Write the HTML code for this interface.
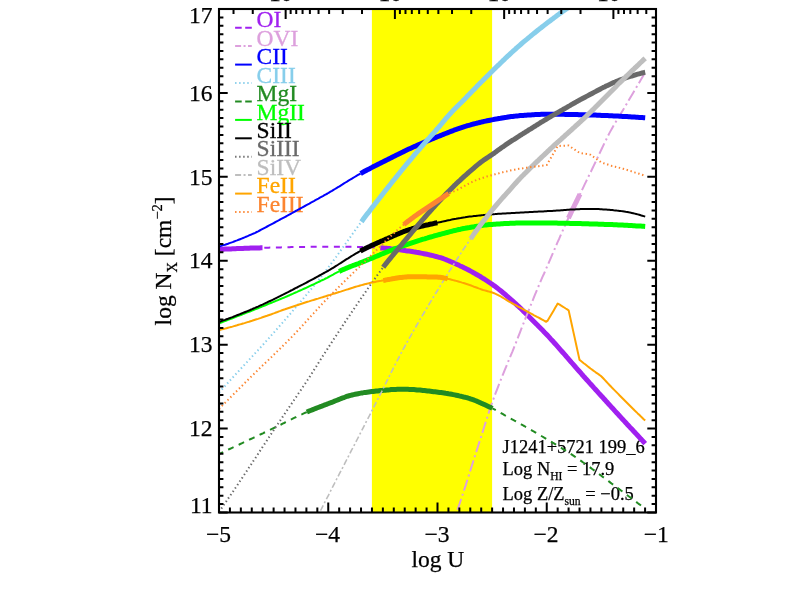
<!DOCTYPE html>
<html><head><meta charset="utf-8"><title>plot</title>
<style>html,body{margin:0;padding:0;background:#fff}svg{display:block;will-change:transform}text{font-family:"Liberation Serif",serif}.k text{stroke:#000;stroke-width:0.25px}</style></head><body>
<svg width="789" height="599" viewBox="0 0 789 599">
<rect width="789" height="599" fill="#fff"/>
<defs><clipPath id="c"><rect x="219.0" y="9.0" width="437.0" height="503.5"/></clipPath></defs>
<rect x="371.9" y="9.0" width="120.2" height="503.5" fill="#FFFF00"/>
<text x="256.6" y="27.4" font-size="23.5" fill="#A020F0" stroke="#A020F0" stroke-width="0.3">OI</text>
<text x="256.6" y="45.8" font-size="23.5" fill="#DDA0DD" stroke="#DDA0DD" stroke-width="0.3">OVI</text>
<text x="256.6" y="64.3" font-size="23.5" fill="#0000FF" stroke="#0000FF" stroke-width="0.3">CII</text>
<text x="256.6" y="82.7" font-size="23.5" fill="#87CEEB" stroke="#87CEEB" stroke-width="0.3">CIII</text>
<text x="256.6" y="101.1" font-size="23.5" fill="#228B22" stroke="#228B22" stroke-width="0.3">MgI</text>
<text x="256.6" y="119.6" font-size="23.5" fill="#00FF00" stroke="#00FF00" stroke-width="0.3">MgII</text>
<text x="256.6" y="138.0" font-size="23.5" fill="#000000" stroke="#000000" stroke-width="0.3">SiII</text>
<text x="256.6" y="156.4" font-size="23.5" fill="#696969" stroke="#696969" stroke-width="0.3">SiIII</text>
<text x="256.6" y="174.8" font-size="23.5" fill="#BEBEBE" stroke="#BEBEBE" stroke-width="0.3">SiIV</text>
<text x="256.6" y="193.3" font-size="23.5" fill="#FFA500" stroke="#FFA500" stroke-width="0.3">FeII</text>
<text x="256.6" y="211.7" font-size="23.5" fill="#FC8530" stroke="#FC8530" stroke-width="0.3">FeIII</text>
<g class="k">
<text x="502.6" y="452.6" font-size="18.45" fill="#000">J1241+5721 199_6</text>
<text x="502.6" y="475.2" font-size="18.45" fill="#000">Log N<tspan font-size="11.6" dy="4.5">HI</tspan><tspan dy="-4.5"> = 17.9</tspan></text>
<text x="502.6" y="500" font-size="18.45" fill="#000">Log Z/Z<tspan font-size="11.6" dy="4.5">sun</tspan><tspan dy="-4.5"> = −0.5</tspan></text>
</g>
<g clip-path="url(#c)" fill="none" stroke-linejoin="round">
<path d="M219.0 249.4 L220.5 249.3 L222.0 249.3 L223.5 249.2 L225.0 249.1 L226.5 249.1 L228.0 249.0 L229.5 248.9 L231.0 248.9 L232.5 248.8 L234.0 248.8 L235.5 248.7 L237.0 248.6 L238.5 248.6 L240.0 248.5 L241.5 248.5 L243.0 248.4 L244.5 248.3 L246.0 248.3 L247.5 248.2 L249.0 248.2 L250.5 248.1 L252.0 248.1 L253.5 248.0 L255.0 248.0 L256.5 248.0 L258.0 247.9 L259.5 247.9 L261.0 247.8 L262.5 247.8" stroke="#A020F0" stroke-width="5.0"/>
<path d="M262.5 247.8 L264.0 247.8 L265.5 247.7 L267.0 247.7 L268.5 247.7 L270.1 247.6 L271.6 247.6 L273.1 247.6 L274.6 247.5 L276.1 247.5 L277.6 247.4 L279.1 247.4 L280.6 247.4 L282.1 247.3 L283.6 247.3 L285.2 247.3 L286.7 247.2 L288.2 247.2 L289.7 247.2 L291.2 247.1 L292.7 247.1 L294.2 247.1 L295.7 247.1 L297.2 247.0 L298.7 247.0 L300.3 247.0 L301.8 246.9 L303.3 246.9 L304.8 246.9 L306.3 246.9 L307.8 246.9 L309.3 246.8 L310.8 246.8 L312.3 246.8 L313.8 246.8 L315.4 246.8 L316.9 246.8 L318.4 246.7 L319.9 246.7 L321.4 246.7 L322.9 246.7 L324.4 246.7 L325.9 246.7 L327.4 246.7 L329.0 246.7 L330.5 246.7 L332.0 246.7 L333.5 246.7 L335.0 246.7 L336.5 246.7 L338.0 246.7 L339.5 246.7 L341.0 246.7 L342.5 246.7 L344.1 246.7 L345.6 246.8 L347.1 246.8 L348.6 246.8 L350.1 246.8 L351.6 246.8 L353.1 246.8 L354.6 246.8 L356.1 246.8 L357.6 246.9 L359.2 246.9 L360.7 246.9 L362.2 246.9 L363.7 246.9 L365.2 247.0 L366.7 247.0 L368.2 247.1 L369.7 247.2 L371.2 247.2 L372.7 247.3 L374.3 247.4 L375.8 247.5 L377.3 247.6 L378.8 247.7 L380.3 247.9" stroke="#A020F0" stroke-width="2.0" stroke-dasharray="6.0 5.6" stroke-dashoffset="9.8"/>
<path d="M380.3 247.9 L381.8 248.0 L383.3 248.1 L384.8 248.2 L386.3 248.3 L387.8 248.5 L389.3 248.6 L390.8 248.8 L392.3 248.9 L393.8 249.1 L395.4 249.3 L396.9 249.5 L398.4 249.6 L399.9 249.8 L401.4 250.0 L402.9 250.2 L404.4 250.4 L405.9 250.7 L407.4 250.9 L408.9 251.1 L410.4 251.3 L411.9 251.5 L413.4 251.8 L414.9 252.0 L416.4 252.3 L417.9 252.5 L419.4 252.8 L420.9 253.1 L422.4 253.4 L423.9 253.7 L425.5 254.0 L427.0 254.3 L428.5 254.6 L430.0 255.0 L431.5 255.3 L433.0 255.7 L434.5 256.1 L436.0 256.5 L437.5 256.9 L439.0 257.3 L440.5 257.7 L442.0 258.2 L443.5 258.7 L445.0 259.3 L446.5 259.9 L448.0 260.5 L449.5 261.1 L451.0 261.7 L452.5 262.4 L454.1 263.0 L455.6 263.7 L457.1 264.4 L458.6 265.1 L460.1 265.9 L461.6 266.6 L463.1 267.3 L464.6 268.1 L466.1 268.8 L467.6 269.5 L469.1 270.3 L470.6 271.1 L472.1 271.9 L473.6 272.8 L475.1 273.6 L476.6 274.5 L478.1 275.3 L479.6 276.2 L481.1 277.2 L482.6 278.1 L484.2 279.0 L485.7 280.0 L487.2 281.0 L488.7 282.0 L490.2 283.0 L491.7 284.0 L493.2 285.1 L494.7 286.1 L496.2 287.2 L497.7 288.4 L499.2 289.6 L500.7 290.8 L502.2 292.0 L503.7 293.3 L505.2 294.5 L506.7 295.8 L508.2 297.1 L509.7 298.5 L511.2 299.8 L512.8 301.1 L514.3 302.5 L515.8 303.9 L517.3 305.3 L518.8 306.7 L520.3 308.1 L521.8 309.6 L523.3 311.1 L524.8 312.5 L526.3 314.0 L527.8 315.5 L529.3 316.9 L530.8 318.4 L532.3 319.9 L533.8 321.4 L535.3 322.9 L536.8 324.4 L538.3 326.0 L539.8 327.5 L541.3 329.0 L542.9 330.6 L544.4 332.2 L545.9 333.7 L547.4 335.3 L548.9 336.9 L550.4 338.6 L551.9 340.2 L553.4 341.8 L554.9 343.5 L556.4 345.2 L557.9 346.9 L559.4 348.6 L560.9 350.3 L562.4 352.0 L563.9 353.7 L565.4 355.4 L566.9 357.2 L568.4 358.9 L569.9 360.6 L571.4 362.4 L573.0 364.1 L574.5 365.8 L576.0 367.6 L577.5 369.3 L579.0 371.0 L580.5 372.7 L582.0 374.5 L583.5 376.2 L585.0 377.8 L586.5 379.5 L588.0 381.2 L589.5 382.9 L591.0 384.5 L592.5 386.2 L594.0 387.9 L595.5 389.5 L597.0 391.2 L598.5 392.9 L600.0 394.5 L601.6 396.2 L603.1 397.8 L604.6 399.5 L606.1 401.2 L607.6 402.8 L609.1 404.5 L610.6 406.1 L612.1 407.8 L613.6 409.4 L615.1 411.1 L616.6 412.7 L618.1 414.3 L619.6 416.0 L621.1 417.6 L622.6 419.3 L624.1 420.9 L625.6 422.5 L627.1 424.2 L628.6 425.8 L630.1 427.4 L631.7 429.0 L633.2 430.7 L634.7 432.3 L636.2 433.9 L637.7 435.5 L639.2 437.1 L640.7 438.8 L642.2 440.4 L643.7 442.0 L645.2 443.6" stroke="#A020F0" stroke-width="5.0"/>
<path d="M456.5 512.5 L458.0 508.4 L459.5 504.0 L461.0 499.5 L462.5 494.9 L464.0 490.3 L465.6 485.6 L467.1 480.8 L468.6 476.1 L470.1 471.3 L471.6 466.5 L473.1 461.8 L474.6 457.1 L476.1 452.4 L477.6 447.7 L479.1 442.9 L480.7 438.1 L482.2 433.3 L483.7 428.5 L485.2 423.7 L486.7 419.0 L488.2 414.3 L489.7 409.8 L491.2 405.3 L492.7 401.0 L494.2 396.9 L495.7 392.8 L497.3 388.8 L498.8 384.9 L500.3 381.1 L501.8 377.3 L503.3 373.6 L504.8 369.9 L506.3 366.3 L507.8 362.6 L509.3 358.9 L510.8 355.3 L512.4 351.6 L513.9 347.8 L515.4 344.1 L516.9 340.3 L518.4 336.4 L519.9 332.6 L521.4 328.7 L522.9 324.9 L524.4 321.1 L525.9 317.2 L527.5 313.4 L529.0 309.6 L530.5 305.8 L532.0 302.1 L533.5 298.4 L535.0 294.7 L536.5 291.1 L538.0 287.5 L539.5 283.9 L541.0 280.4 L542.5 276.9 L544.1 273.5 L545.6 270.0 L547.1 266.5 L548.6 263.1 L550.1 259.6 L551.6 256.1 L553.1 252.6 L554.6 249.1 L556.1 245.6 L557.6 242.1 L559.2 238.7 L560.7 235.2 L562.2 231.8 L563.7 228.4 L565.2 225.1 L566.7 221.7 L568.2 218.5 L569.7 215.3 L571.2 212.1 L572.7 209.0 L574.2 205.9 L575.8 202.9 L577.3 199.8 L578.8 196.7 L580.3 193.6 L581.8 190.5 L583.3 187.4 L584.8 184.2 L586.3 181.1 L587.8 178.0 L589.3 174.8 L590.9 171.7 L592.4 168.5 L593.9 165.4 L595.4 162.3 L596.9 159.1 L598.4 155.9 L599.9 152.7 L601.4 149.5 L602.9 146.3 L604.4 143.1 L606.0 140.0 L607.5 136.9 L609.0 133.9 L610.5 131.1 L612.0 128.4 L613.5 125.8 L615.0 123.2 L616.5 120.7 L618.0 118.3 L619.5 115.8 L621.0 113.3 L622.6 110.7 L624.1 108.2 L625.6 105.6 L627.1 103.1 L628.6 100.5 L630.1 98.0 L631.6 95.4 L633.1 92.9 L634.6 90.3 L636.1 87.8 L637.7 85.2 L639.2 82.7 L640.7 80.1 L642.2 77.6 L643.7 75.0 L645.2 72.5" stroke="#DDA0DD" stroke-width="2.0" stroke-dasharray="11.5 3.4 2 3.3" stroke-dashoffset="17.3"/>
<path d="M568.4 218.1 L570.1 214.6 L571.7 211.1 L573.4 207.7 L575.0 204.3 L576.7 201.0 L578.3 197.6 L580.0 194.2" stroke="#DDA0DD" stroke-width="5.0"/>
<path d="M219.0 246.5 L220.5 246.1 L222.0 245.6 L223.5 245.1 L225.0 244.7 L226.5 244.2 L228.0 243.7 L229.5 243.1 L231.1 242.6 L232.6 242.1 L234.1 241.5 L235.6 240.9 L237.1 240.4 L238.6 239.8 L240.1 239.2 L241.6 238.6 L243.1 238.0 L244.6 237.4 L246.1 236.7 L247.6 236.1 L249.1 235.4 L250.6 234.8 L252.1 234.1 L253.6 233.5 L255.2 232.8 L256.7 232.0 L258.2 231.3 L259.7 230.5 L261.2 229.7 L262.7 228.9 L264.2 228.1 L265.7 227.3 L267.2 226.5 L268.7 225.7 L270.2 224.9 L271.7 224.1 L273.2 223.3 L274.7 222.5 L276.2 221.7 L277.7 220.9 L279.3 220.0 L280.8 219.2 L282.3 218.4 L283.8 217.6 L285.3 216.8 L286.8 216.0 L288.3 215.1 L289.8 214.3 L291.3 213.5 L292.8 212.6 L294.3 211.8 L295.8 211.0 L297.3 210.2 L298.8 209.3 L300.3 208.5 L301.9 207.7 L303.4 206.8 L304.9 206.0 L306.4 205.2 L307.9 204.4 L309.4 203.6 L310.9 202.7 L312.4 201.9 L313.9 201.1 L315.4 200.2 L316.9 199.4 L318.4 198.6 L319.9 197.7 L321.4 196.9 L322.9 196.1 L324.4 195.2 L326.0 194.3 L327.5 193.5 L329.0 192.6 L330.5 191.7 L332.0 190.9 L333.5 189.9 L335.0 189.0 L336.5 188.1 L338.0 187.2 L339.5 186.3 L341.0 185.3 L342.5 184.4 L344.0 183.4 L345.5 182.5 L347.0 181.6 L348.5 180.6 L350.1 179.7 L351.6 178.8 L353.1 177.9 L354.6 177.0 L356.1 176.1 L357.6 175.2 L359.1 174.3 L360.6 173.5" stroke="#0000FF" stroke-width="2.0"/>
<path d="M360.6 173.5 L362.1 172.7 L363.6 171.8 L365.1 171.0 L366.6 170.2 L368.1 169.4 L369.6 168.7 L371.1 167.9 L372.6 167.1 L374.2 166.3 L375.7 165.6 L377.2 164.8 L378.7 164.0 L380.2 163.3 L381.7 162.5 L383.2 161.8 L384.7 161.0 L386.2 160.2 L387.7 159.5 L389.2 158.7 L390.7 158.0 L392.2 157.2 L393.7 156.4 L395.2 155.7 L396.7 154.9 L398.2 154.2 L399.8 153.4 L401.3 152.7 L402.8 152.0 L404.3 151.2 L405.8 150.5 L407.3 149.8 L408.8 149.1 L410.3 148.4 L411.8 147.7 L413.3 147.0 L414.8 146.4 L416.3 145.7 L417.8 145.0 L419.3 144.4 L420.8 143.7 L422.3 143.1 L423.8 142.4 L425.4 141.8 L426.9 141.1 L428.4 140.5 L429.9 139.9 L431.4 139.3 L432.9 138.7 L434.4 138.0 L435.9 137.4 L437.4 136.8 L438.9 136.2 L440.4 135.6 L441.9 135.0 L443.4 134.4 L444.9 133.8 L446.4 133.2 L447.9 132.6 L449.4 132.0 L450.9 131.4 L452.5 130.8 L454.0 130.2 L455.5 129.7 L457.0 129.1 L458.5 128.6 L460.0 128.1 L461.5 127.6 L463.0 127.1 L464.5 126.6 L466.0 126.2 L467.5 125.7 L469.0 125.3 L470.5 124.9 L472.0 124.4 L473.5 124.0 L475.0 123.6 L476.5 123.3 L478.1 122.9 L479.6 122.5 L481.1 122.1 L482.6 121.8 L484.1 121.4 L485.6 121.1 L487.1 120.8 L488.6 120.5 L490.1 120.2 L491.6 119.9 L493.1 119.6 L494.6 119.3 L496.1 119.1 L497.6 118.8 L499.1 118.5 L500.6 118.3 L502.1 118.0 L503.7 117.7 L505.2 117.5 L506.7 117.3 L508.2 117.0 L509.7 116.8 L511.2 116.6 L512.7 116.4 L514.2 116.2 L515.7 116.1 L517.2 115.9 L518.7 115.8 L520.2 115.6 L521.7 115.5 L523.2 115.4 L524.7 115.3 L526.2 115.2 L527.7 115.1 L529.3 115.0 L530.8 114.9 L532.3 114.8 L533.8 114.7 L535.3 114.6 L536.8 114.5 L538.3 114.4 L539.8 114.4 L541.3 114.3 L542.8 114.3 L544.3 114.2 L545.8 114.2 L547.3 114.2 L548.8 114.2 L550.3 114.2 L551.8 114.2 L553.3 114.2 L554.9 114.2 L556.4 114.2 L557.9 114.3 L559.4 114.3 L560.9 114.3 L562.4 114.3 L563.9 114.3 L565.4 114.4 L566.9 114.4 L568.4 114.4 L569.9 114.5 L571.4 114.5 L572.9 114.5 L574.4 114.6 L575.9 114.6 L577.4 114.6 L578.9 114.7 L580.4 114.7 L582.0 114.8 L583.5 114.8 L585.0 114.8 L586.5 114.9 L588.0 114.9 L589.5 115.0 L591.0 115.0 L592.5 115.1 L594.0 115.1 L595.5 115.1 L597.0 115.2 L598.5 115.2 L600.0 115.3 L601.5 115.4 L603.0 115.4 L604.5 115.5 L606.0 115.5 L607.6 115.6 L609.1 115.7 L610.6 115.7 L612.1 115.8 L613.6 115.9 L615.1 115.9 L616.6 116.0 L618.1 116.1 L619.6 116.2 L621.1 116.3 L622.6 116.4 L624.1 116.4 L625.6 116.5 L627.1 116.6 L628.6 116.7 L630.1 116.8 L631.6 116.9 L633.2 117.0 L634.7 117.1 L636.2 117.2 L637.7 117.3 L639.2 117.4 L640.7 117.5 L642.2 117.6 L643.7 117.7 L645.2 117.8" stroke="#0000FF" stroke-width="5.0"/>
<path d="M219.0 392.5 L220.5 390.9 L222.0 389.2 L223.5 387.6 L225.0 386.0 L226.5 384.3 L228.0 382.7 L229.5 381.0 L231.0 379.4 L232.5 377.8 L234.0 376.1 L235.5 374.5 L237.0 372.9 L238.5 371.3 L240.0 369.7 L241.5 368.0 L243.0 366.4 L244.5 364.8 L246.0 363.2 L247.5 361.6 L249.0 359.9 L250.5 358.3 L252.0 356.7 L253.5 355.1 L255.0 353.4 L256.5 351.8 L258.0 350.2 L259.5 348.5 L261.0 346.9 L262.5 345.3 L264.0 343.6 L265.5 341.9 L267.0 340.3 L268.5 338.6 L270.0 336.9 L271.5 335.2 L273.0 333.5 L274.5 331.8 L276.0 330.1 L277.5 328.4 L279.0 326.7 L280.5 325.0 L282.0 323.3 L283.5 321.6 L285.0 319.9 L286.5 318.2 L288.0 316.4 L289.5 314.7 L291.0 313.0 L292.5 311.2 L294.0 309.5 L295.5 307.7 L297.0 306.0 L298.5 304.2 L300.0 302.5 L301.5 300.7 L303.0 298.9 L304.5 297.1 L306.0 295.3 L307.5 293.5 L309.0 291.7 L310.5 289.9 L312.0 288.1 L313.5 286.3 L315.0 284.4 L316.5 282.6 L318.0 280.7 L319.5 278.8 L321.0 276.9 L322.5 275.0 L324.0 273.1 L325.5 271.2 L327.0 269.2 L328.5 267.2 L330.0 265.3 L331.5 263.2 L333.0 261.2 L334.5 259.1 L336.0 257.1 L337.5 255.0 L339.0 252.9 L340.5 250.8 L342.0 248.7 L343.5 246.6 L345.0 244.5 L346.5 242.4 L348.0 240.3 L349.5 238.2 L351.0 236.1 L352.5 234.0 L354.0 231.9 L355.5 229.8 L357.0 227.8 L358.5 225.7 L360.0 223.7 L361.5 221.7" stroke="#87CEEB" stroke-width="2.0" stroke-dasharray="1.4 2.66"/>
<path d="M361.5 221.7 L363.0 219.6 L364.5 217.6 L366.0 215.6 L367.5 213.6 L369.0 211.7 L370.5 209.7 L372.0 207.7 L373.6 205.8 L375.1 203.8 L376.6 201.9 L378.1 200.0 L379.6 198.0 L381.1 196.1 L382.6 194.2 L384.1 192.3 L385.6 190.4 L387.1 188.5 L388.6 186.6 L390.1 184.7 L391.6 182.8 L393.1 180.9 L394.7 179.0 L396.2 177.1 L397.7 175.2 L399.2 173.4 L400.7 171.5 L402.2 169.7 L403.7 167.8 L405.2 166.0 L406.7 164.2 L408.2 162.4 L409.7 160.6 L411.2 158.8 L412.7 157.0 L414.2 155.2 L415.7 153.4 L417.3 151.6 L418.8 149.9 L420.3 148.1 L421.8 146.4 L423.3 144.6 L424.8 142.9 L426.3 141.2 L427.8 139.5 L429.3 137.9 L430.8 136.2 L432.3 134.5 L433.8 132.8 L435.3 131.1 L436.8 129.3 L438.4 127.6 L439.9 125.8 L441.4 124.0 L442.9 122.1 L444.4 120.3 L445.9 118.5 L447.4 116.8 L448.9 115.1 L450.4 113.5 L451.9 111.9 L453.4 110.3 L454.9 108.8 L456.4 107.3 L457.9 105.8 L459.4 104.3 L461.0 102.8 L462.5 101.3 L464.0 99.7 L465.5 98.2 L467.0 96.6 L468.5 95.1 L470.0 93.5 L471.5 92.0 L473.0 90.4 L474.5 88.9 L476.0 87.4 L477.5 85.8 L479.0 84.3 L480.5 82.7 L482.1 81.2 L483.6 79.7 L485.1 78.2 L486.6 76.7 L488.1 75.2 L489.6 73.7 L491.1 72.2 L492.6 70.7 L494.1 69.2 L495.6 67.8 L497.1 66.3 L498.6 64.9 L500.1 63.4 L501.6 62.0 L503.1 60.5 L504.7 59.1 L506.2 57.6 L507.7 56.2 L509.2 54.8 L510.7 53.4 L512.2 52.0 L513.7 50.6 L515.2 49.3 L516.7 47.9 L518.2 46.6 L519.7 45.3 L521.2 44.0 L522.7 42.7 L524.2 41.4 L525.8 40.1 L527.3 38.9 L528.8 37.6 L530.3 36.4 L531.8 35.1 L533.3 33.9 L534.8 32.7 L536.3 31.5 L537.8 30.3 L539.3 29.1 L540.8 28.0 L542.3 26.8 L543.8 25.6 L545.3 24.4 L546.8 23.3 L548.4 22.1 L549.9 21.0 L551.4 19.8 L552.9 18.7 L554.4 17.6 L555.9 16.4 L557.4 15.3 L558.9 14.2 L560.4 13.1 L561.9 12.1 L563.4 11.0 L564.9 9.9 L566.4 8.9 L567.9 7.9 L569.5 6.8 L571.0 5.8 L572.5 4.8 L574.0 3.8 L575.5 2.9 L577.0 1.9 L578.5 0.9 L580.0 -0.0" stroke="#87CEEB" stroke-width="5.0"/>
<path d="M219.0 454.0 L220.5 453.3 L222.0 452.6 L223.5 451.9 L225.1 451.2 L226.6 450.5 L228.1 449.7 L229.6 449.0 L231.1 448.3 L232.6 447.6 L234.1 446.9 L235.7 446.2 L237.2 445.5 L238.7 444.8 L240.2 444.0 L241.7 443.3 L243.2 442.6 L244.7 441.9 L246.2 441.2 L247.8 440.5 L249.3 439.7 L250.8 439.0 L252.3 438.3 L253.8 437.6 L255.3 436.9 L256.8 436.1 L258.4 435.4 L259.9 434.7 L261.4 434.0 L262.9 433.3 L264.4 432.5 L265.9 431.8 L267.4 431.1 L269.0 430.4 L270.5 429.6 L272.0 428.9 L273.5 428.2 L275.0 427.5 L276.5 426.7 L278.0 426.0 L279.6 425.2 L281.1 424.5 L282.6 423.7 L284.1 423.0 L285.6 422.2 L287.1 421.5 L288.6 420.7 L290.1 419.9 L291.7 419.2 L293.2 418.4 L294.7 417.7 L296.2 417.0 L297.7 416.2 L299.2 415.5 L300.7 414.8 L302.3 414.1 L303.8 413.4 L305.3 412.7 L306.8 412.1" stroke="#228B22" stroke-width="2.0" stroke-dasharray="6.0 5.6" stroke-dashoffset="1.5"/>
<path d="M306.8 412.1 L308.3 411.4 L309.8 410.8 L311.3 410.2 L312.8 409.6 L314.3 409.0 L315.9 408.4 L317.4 407.8 L318.9 407.2 L320.4 406.6 L321.9 406.1 L323.4 405.5 L324.9 404.9 L326.4 404.4 L327.9 403.8 L329.4 403.2 L330.9 402.7 L332.5 402.1 L334.0 401.4 L335.5 400.8 L337.0 400.2 L338.5 399.6 L340.0 399.0 L341.5 398.4 L343.0 397.8 L344.5 397.3 L346.0 396.7 L347.5 396.2 L349.1 395.8 L350.6 395.4 L352.1 395.0 L353.6 394.6 L355.1 394.3 L356.6 394.0 L358.1 393.7 L359.6 393.4 L361.1 393.1 L362.6 392.9 L364.1 392.6 L365.6 392.4 L367.2 392.2 L368.7 392.0 L370.2 391.8 L371.7 391.6 L373.2 391.5 L374.7 391.3 L376.2 391.1 L377.7 391.0 L379.2 390.8 L380.7 390.6 L382.2 390.5 L383.8 390.3 L385.3 390.2 L386.8 390.0 L388.3 389.9 L389.8 389.8 L391.3 389.6 L392.8 389.5 L394.3 389.4 L395.8 389.4 L397.3 389.3 L398.8 389.3 L400.4 389.2 L401.9 389.2 L403.4 389.2 L404.9 389.2 L406.4 389.3 L407.9 389.3 L409.4 389.4 L410.9 389.4 L412.4 389.5 L413.9 389.6 L415.4 389.7 L417.0 389.9 L418.5 390.0 L420.0 390.1 L421.5 390.3 L423.0 390.5 L424.5 390.6 L426.0 390.8 L427.5 391.0 L429.0 391.1 L430.5 391.3 L432.0 391.5 L433.6 391.7 L435.1 391.8 L436.6 392.0 L438.1 392.2 L439.6 392.4 L441.1 392.6 L442.6 392.8 L444.1 393.0 L445.6 393.3 L447.1 393.5 L448.6 393.8 L450.1 394.0 L451.7 394.3 L453.2 394.6 L454.7 394.9 L456.2 395.2 L457.7 395.5 L459.2 395.9 L460.7 396.2 L462.2 396.6 L463.7 397.0 L465.2 397.3 L466.7 397.7 L468.3 398.2 L469.8 398.6 L471.3 399.2 L472.8 399.7 L474.3 400.2 L475.8 400.8 L477.3 401.4 L478.8 402.1 L480.3 402.7 L481.8 403.4 L483.3 404.1 L484.9 404.8 L486.4 405.5 L487.9 406.2 L489.4 406.9 L490.9 407.6 L492.4 408.4" stroke="#228B22" stroke-width="5.0"/>
<path d="M492.4 408.4 L493.9 409.1 L495.4 409.9 L496.9 410.7 L498.5 411.6 L500.0 412.4 L501.5 413.3 L503.0 414.2 L504.5 415.1 L506.0 415.9 L507.5 416.8 L509.0 417.6 L510.6 418.5 L512.1 419.3 L513.6 420.1 L515.1 421.0 L516.6 421.8 L518.1 422.6 L519.6 423.5 L521.1 424.3 L522.7 425.2 L524.2 426.0 L525.7 426.9 L527.2 427.7 L528.7 428.6 L530.2 429.5 L531.7 430.3 L533.2 431.2 L534.8 432.1 L536.3 433.0 L537.8 433.8 L539.3 434.7 L540.8 435.6 L542.3 436.5 L543.8 437.4 L545.4 438.3 L546.9 439.2 L548.4 440.1 L549.9 441.0 L551.4 441.9 L552.9 442.8 L554.4 443.7 L555.9 444.6 L557.5 445.5 L559.0 446.5 L560.5 447.4 L562.0 448.3 L563.5 449.3 L565.0 450.2 L566.5 451.2 L568.0 452.1 L569.6 453.1 L571.1 454.1 L572.6 455.1 L574.1 456.1 L575.6 457.2 L577.1 458.2 L578.6 459.3 L580.1 460.3 L581.7 461.4 L583.2 462.5 L584.7 463.5 L586.2 464.6 L587.7 465.7 L589.2 466.8 L590.7 467.9 L592.2 469.0 L593.8 470.1 L595.3 471.2 L596.8 472.3 L598.3 473.4 L599.8 474.6 L601.3 475.7 L602.8 476.9 L604.4 478.0 L605.9 479.1 L607.4 480.3 L608.9 481.4 L610.4 482.6 L611.9 483.7 L613.4 484.8 L614.9 486.0 L616.5 487.1 L618.0 488.2 L619.5 489.4 L621.0 490.5 L622.5 491.6 L624.0 492.8 L625.5 493.9 L627.0 495.0 L628.6 496.2 L630.1 497.3 L631.6 498.4 L633.1 499.6 L634.6 500.7 L636.1 501.8 L637.6 503.0 L639.1 504.1 L640.7 505.2 L642.2 506.4 L643.7 507.5 L645.2 508.7" stroke="#228B22" stroke-width="2.0" stroke-dasharray="6.0 5.6" stroke-dashoffset="2.2"/>
<path d="M219.0 323.3 L220.5 322.7 L222.0 322.2 L223.5 321.6 L225.0 321.0 L226.5 320.5 L228.0 319.9 L229.5 319.3 L231.0 318.8 L232.5 318.2 L234.0 317.6 L235.5 317.0 L237.0 316.4 L238.5 315.9 L240.0 315.3 L241.5 314.7 L243.0 314.1 L244.5 313.5 L246.0 312.9 L247.5 312.3 L249.0 311.8 L250.5 311.2 L252.0 310.6 L253.5 310.0 L255.0 309.4 L256.5 308.8 L258.0 308.2 L259.5 307.6 L261.0 307.0 L262.5 306.4 L264.0 305.8 L265.5 305.2 L267.0 304.6 L268.5 303.9 L270.0 303.3 L271.5 302.7 L273.0 302.1 L274.5 301.5 L276.0 300.9 L277.5 300.3 L279.1 299.6 L280.6 299.0 L282.1 298.4 L283.6 297.8 L285.1 297.1 L286.6 296.5 L288.1 295.8 L289.6 295.2 L291.1 294.5 L292.6 293.9 L294.1 293.2 L295.6 292.5 L297.1 291.9 L298.6 291.2 L300.1 290.5 L301.6 289.9 L303.1 289.2 L304.6 288.5 L306.1 287.8 L307.6 287.1 L309.1 286.4 L310.6 285.7 L312.1 285.0 L313.6 284.3 L315.1 283.6 L316.6 282.9 L318.1 282.2 L319.6 281.5 L321.1 280.7 L322.6 280.0 L324.1 279.3 L325.6 278.5 L327.1 277.8 L328.6 277.0 L330.1 276.2 L331.6 275.4 L333.1 274.6 L334.6 273.7 L336.1 272.9 L337.6 272.1 L339.1 271.4" stroke="#00FF00" stroke-width="2.0"/>
<path d="M339.1 271.4 L340.6 270.7 L342.1 270.0 L343.6 269.4 L345.1 268.7 L346.6 268.1 L348.1 267.5 L349.6 266.9 L351.1 266.3 L352.6 265.7 L354.1 265.2 L355.6 264.6 L357.1 264.0 L358.6 263.5 L360.1 262.9 L361.6 262.3 L363.1 261.7 L364.6 261.1 L366.1 260.5 L367.6 259.9 L369.1 259.3 L370.6 258.7 L372.1 258.1 L373.6 257.5 L375.1 256.8 L376.6 256.2 L378.1 255.6 L379.6 255.0 L381.1 254.3 L382.6 253.7 L384.1 253.1 L385.6 252.5 L387.1 251.9 L388.6 251.3 L390.1 250.7 L391.6 250.1 L393.1 249.5 L394.6 248.9 L396.1 248.3 L397.6 247.8 L399.1 247.2 L400.6 246.7 L402.1 246.1 L403.6 245.6 L405.1 245.1 L406.6 244.6 L408.1 244.1 L409.6 243.6 L411.1 243.1 L412.6 242.6 L414.1 242.1 L415.6 241.6 L417.1 241.1 L418.6 240.6 L420.1 240.2 L421.6 239.7 L423.1 239.2 L424.6 238.8 L426.1 238.3 L427.6 237.9 L429.1 237.4 L430.6 237.0 L432.1 236.6 L433.6 236.2 L435.1 235.7 L436.6 235.3 L438.1 234.9 L439.6 234.5 L441.1 234.1 L442.6 233.7 L444.1 233.3 L445.6 232.9 L447.1 232.5 L448.6 232.1 L450.1 231.7 L451.6 231.3 L453.1 230.9 L454.6 230.5 L456.1 230.2 L457.6 229.8 L459.1 229.5 L460.6 229.2 L462.1 228.8 L463.6 228.5 L465.1 228.3 L466.6 228.0 L468.1 227.7 L469.6 227.5 L471.1 227.2 L472.6 226.9 L474.1 226.7 L475.6 226.4 L477.1 226.2 L478.6 226.0 L480.1 225.7 L481.6 225.5 L483.1 225.3 L484.6 225.1 L486.1 224.9 L487.6 224.8 L489.1 224.6 L490.6 224.5 L492.2 224.4 L493.7 224.3 L495.2 224.2 L496.7 224.1 L498.2 224.0 L499.7 223.9 L501.2 223.8 L502.7 223.7 L504.2 223.6 L505.7 223.5 L507.2 223.5 L508.7 223.4 L510.2 223.3 L511.7 223.3 L513.2 223.2 L514.7 223.2 L516.2 223.1 L517.7 223.1 L519.2 223.1 L520.7 223.1 L522.2 223.1 L523.7 223.1 L525.2 223.1 L526.7 223.1 L528.2 223.1 L529.7 223.1 L531.2 223.1 L532.7 223.1 L534.2 223.1 L535.7 223.1 L537.2 223.1 L538.7 223.1 L540.2 223.1 L541.7 223.1 L543.2 223.1 L544.7 223.1 L546.2 223.1 L547.7 223.1 L549.2 223.1 L550.7 223.1 L552.2 223.1 L553.7 223.1 L555.2 223.1 L556.7 223.1 L558.2 223.2 L559.7 223.2 L561.2 223.2 L562.7 223.2 L564.2 223.2 L565.7 223.3 L567.2 223.3 L568.7 223.3 L570.2 223.4 L571.7 223.4 L573.2 223.4 L574.7 223.5 L576.2 223.5 L577.7 223.5 L579.2 223.6 L580.7 223.6 L582.2 223.7 L583.7 223.7 L585.2 223.8 L586.7 223.8 L588.2 223.8 L589.7 223.9 L591.2 223.9 L592.7 224.0 L594.2 224.0 L595.7 224.1 L597.2 224.1 L598.7 224.2 L600.2 224.2 L601.7 224.3 L603.2 224.3 L604.7 224.4 L606.2 224.4 L607.7 224.5 L609.2 224.5 L610.7 224.6 L612.2 224.6 L613.7 224.7 L615.2 224.8 L616.7 224.8 L618.2 224.9 L619.7 225.0 L621.2 225.0 L622.7 225.1 L624.2 225.2 L625.7 225.3 L627.2 225.3 L628.7 225.4 L630.2 225.5 L631.7 225.6 L633.2 225.7 L634.7 225.8 L636.2 225.9 L637.7 225.9 L639.2 226.0 L640.7 226.1 L642.2 226.2 L643.7 226.3 L645.2 226.4" stroke="#00FF00" stroke-width="5.0"/>
<path d="M219.0 322.0 L220.5 321.5 L222.0 320.9 L223.5 320.4 L225.0 319.9 L226.5 319.3 L228.0 318.8 L229.5 318.2 L231.0 317.6 L232.5 317.1 L234.0 316.5 L235.5 315.9 L237.0 315.3 L238.5 314.7 L240.0 314.1 L241.5 313.5 L243.0 312.9 L244.5 312.3 L246.0 311.7 L247.5 311.1 L249.0 310.5 L250.5 309.8 L252.0 309.2 L253.5 308.5 L255.0 307.9 L256.5 307.2 L258.0 306.6 L259.5 305.9 L261.0 305.2 L262.5 304.6 L264.0 303.9 L265.5 303.2 L267.0 302.5 L268.5 301.7 L270.0 301.0 L271.5 300.3 L273.0 299.6 L274.5 298.8 L276.0 298.1 L277.5 297.4 L279.0 296.6 L280.5 295.9 L282.0 295.1 L283.5 294.4 L285.0 293.6 L286.5 292.8 L288.0 292.1 L289.5 291.3 L291.0 290.5 L292.5 289.8 L294.0 289.0 L295.5 288.2 L297.0 287.5 L298.5 286.7 L300.0 285.9 L301.5 285.1 L303.0 284.4 L304.5 283.6 L306.0 282.8 L307.5 282.0 L309.0 281.2 L310.5 280.4 L312.0 279.6 L313.5 278.8 L315.0 278.0 L316.5 277.2 L318.0 276.3 L319.5 275.5 L321.0 274.7 L322.5 273.8 L324.0 273.0 L325.6 272.2 L327.1 271.3 L328.6 270.5 L330.1 269.6 L331.6 268.7 L333.1 267.8 L334.6 266.9 L336.1 265.9 L337.6 265.0 L339.1 264.0 L340.6 263.1 L342.1 262.1 L343.6 261.2 L345.1 260.2 L346.6 259.2 L348.1 258.3 L349.6 257.3 L351.1 256.4 L352.6 255.5 L354.1 254.6 L355.6 253.7 L357.1 252.8 L358.6 252.0 L360.1 251.1 L361.6 250.4 L363.1 249.6 L364.6 248.8 L366.1 248.1 L367.6 247.4 L369.1 246.7 L370.6 246.0 L372.1 245.3 L373.6 244.6 L375.1 243.9 L376.6 243.3 L378.1 242.6 L379.6 242.0 L381.1 241.3 L382.6 240.7 L384.1 240.0 L385.6 239.4 L387.1 238.7 L388.6 238.0 L390.1 237.4 L391.6 236.7 L393.1 236.1 L394.6 235.4 L396.1 234.8 L397.6 234.1 L399.1 233.5 L400.6 232.9 L402.1 232.3 L403.6 231.7 L405.1 231.1 L406.6 230.6 L408.1 230.0 L409.6 229.5 L411.1 229.1 L412.6 228.6 L414.1 228.2 L415.6 227.8 L417.1 227.4 L418.6 227.0 L420.1 226.6 L421.6 226.2 L423.1 225.9 L424.6 225.5 L426.1 225.2 L427.6 224.8 L429.1 224.5 L430.6 224.2 L432.1 223.8 L433.6 223.5 L435.1 223.2 L436.6 222.9 L438.1 222.5 L439.6 222.2 L441.1 221.9 L442.6 221.6 L444.1 221.2 L445.6 220.9 L447.1 220.6 L448.6 220.3 L450.1 220.0 L451.6 219.6 L453.1 219.3 L454.6 219.0 L456.1 218.8 L457.6 218.5 L459.1 218.2 L460.6 218.0 L462.1 217.7 L463.6 217.5 L465.1 217.3 L466.6 217.0 L468.1 216.8 L469.6 216.6 L471.1 216.4 L472.6 216.3 L474.1 216.1 L475.6 215.9 L477.1 215.7 L478.6 215.6 L480.1 215.4 L481.6 215.2 L483.1 215.1 L484.6 214.9 L486.1 214.8 L487.6 214.7 L489.1 214.5 L490.6 214.4 L492.1 214.3 L493.6 214.2 L495.1 214.1 L496.6 213.9 L498.1 213.8 L499.6 213.8 L501.1 213.7 L502.6 213.6 L504.1 213.5 L505.6 213.4 L507.1 213.3 L508.6 213.2 L510.1 213.2 L511.6 213.1 L513.1 213.0 L514.6 212.9 L516.1 212.8 L517.6 212.8 L519.1 212.7 L520.6 212.6 L522.1 212.5 L523.6 212.4 L525.1 212.3 L526.6 212.3 L528.1 212.2 L529.6 212.1 L531.1 212.0 L532.6 211.9 L534.1 211.8 L535.6 211.8 L537.1 211.7 L538.7 211.6 L540.2 211.5 L541.7 211.4 L543.2 211.4 L544.7 211.3 L546.2 211.2 L547.7 211.1 L549.2 211.0 L550.7 211.0 L552.2 210.9 L553.7 210.8 L555.2 210.7 L556.7 210.6 L558.2 210.5 L559.7 210.4 L561.2 210.3 L562.7 210.2 L564.2 210.0 L565.7 209.9 L567.2 209.8 L568.7 209.7 L570.2 209.6 L571.7 209.6 L573.2 209.5 L574.7 209.4 L576.2 209.3 L577.7 209.2 L579.2 209.2 L580.7 209.1 L582.2 209.0 L583.7 209.0 L585.2 209.0 L586.7 208.9 L588.2 208.9 L589.7 208.9 L591.2 208.9 L592.7 208.9 L594.2 208.9 L595.7 209.0 L597.2 209.0 L598.7 209.1 L600.2 209.2 L601.7 209.3 L603.2 209.4 L604.7 209.5 L606.2 209.6 L607.7 209.7 L609.2 209.8 L610.7 210.0 L612.2 210.1 L613.7 210.3 L615.2 210.4 L616.7 210.6 L618.2 210.7 L619.7 210.9 L621.2 211.1 L622.7 211.2 L624.2 211.4 L625.7 211.7 L627.2 211.9 L628.7 212.2 L630.2 212.6 L631.7 212.9 L633.2 213.2 L634.7 213.6 L636.2 214.0 L637.7 214.4 L639.2 214.8 L640.7 215.3 L642.2 215.7 L643.7 216.1 L645.2 216.6" stroke="#000000" stroke-width="2.0"/>
<path d="M360.4 251.0 L361.9 250.2 L363.4 249.4 L364.9 248.7 L366.4 247.9 L367.9 247.2 L369.5 246.5 L371.0 245.8 L372.5 245.1 L374.0 244.4 L375.5 243.7 L377.0 243.1 L378.5 242.4 L380.0 241.8 L381.5 241.1 L383.0 240.5 L384.6 239.8 L386.1 239.1 L387.6 238.5 L389.1 237.8 L390.6 237.2 L392.1 236.5 L393.6 235.8 L395.1 235.2 L396.6 234.5 L398.1 233.9 L399.7 233.2 L401.2 232.6 L402.7 232.0 L404.2 231.4 L405.7 230.9 L407.2 230.3 L408.7 229.8 L410.2 229.3 L411.7 228.9 L413.2 228.4 L414.8 228.0 L416.3 227.6 L417.8 227.2 L419.3 226.8 L420.8 226.4 L422.3 226.0 L423.8 225.7 L425.3 225.3 L426.8 225.0 L428.3 224.7 L429.9 224.3 L431.4 224.0 L432.9 223.7 L434.4 223.3 L435.9 223.0 L437.4 222.7" stroke="#000000" stroke-width="5.0"/>
<path d="M219.0 512.0 L220.5 509.8 L222.0 507.6 L223.5 505.4 L225.0 503.2 L226.5 501.0 L228.0 498.8 L229.5 496.6 L231.1 494.4 L232.6 492.2 L234.1 489.9 L235.6 487.7 L237.1 485.5 L238.6 483.3 L240.1 481.0 L241.6 478.8 L243.1 476.5 L244.6 474.3 L246.1 472.0 L247.6 469.7 L249.1 467.4 L250.6 465.2 L252.1 462.9 L253.6 460.6 L255.2 458.3 L256.7 456.0 L258.2 453.7 L259.7 451.4 L261.2 449.1 L262.7 446.8 L264.2 444.6 L265.7 442.3 L267.2 440.0 L268.7 437.7 L270.2 435.4 L271.7 433.1 L273.2 430.9 L274.7 428.6 L276.2 426.3 L277.8 424.1 L279.3 421.8 L280.8 419.6 L282.3 417.4 L283.8 415.1 L285.3 412.9 L286.8 410.7 L288.3 408.5 L289.8 406.3 L291.3 404.1 L292.8 401.9 L294.3 399.7 L295.8 397.5 L297.3 395.2 L298.8 393.0 L300.3 390.8 L301.9 388.5 L303.4 386.3 L304.9 384.0 L306.4 381.8 L307.9 379.5 L309.4 377.2 L310.9 374.8 L312.4 372.5 L313.9 370.1 L315.4 367.8 L316.9 365.4 L318.4 363.0 L319.9 360.6 L321.4 358.3 L322.9 355.9 L324.4 353.5 L326.0 351.2 L327.5 348.9 L329.0 346.5 L330.5 344.2 L332.0 341.9 L333.5 339.6 L335.0 337.3 L336.5 335.1 L338.0 332.8 L339.5 330.5 L341.0 328.2 L342.5 325.9 L344.0 323.6 L345.5 321.4 L347.0 319.1 L348.6 316.9 L350.1 314.6 L351.6 312.4 L353.1 310.2 L354.6 307.9 L356.1 305.7 L357.6 303.5 L359.1 301.3 L360.6 299.1 L362.1 296.9 L363.6 294.8 L365.1 292.6 L366.6 290.4 L368.1 288.2 L369.6 286.1 L371.1 283.9 L372.7 281.8 L374.2 279.6 L375.7 277.5 L377.2 275.4 L378.7 273.4 L380.2 271.3 L381.7 269.3 L383.2 267.3" stroke="#696969" stroke-width="2.0" stroke-dasharray="1.4 2.66"/>
<path d="M383.2 267.3 L384.7 265.3 L386.2 263.4 L387.7 261.5 L389.2 259.6 L390.7 257.8 L392.2 256.0 L393.7 254.1 L395.2 252.3 L396.8 250.5 L398.3 248.7 L399.8 246.9 L401.3 245.1 L402.8 243.2 L404.3 241.4 L405.8 239.6 L407.3 237.8 L408.8 236.0 L410.3 234.3 L411.8 232.5 L413.3 230.7 L414.8 228.9 L416.3 227.2 L417.8 225.4 L419.3 223.6 L420.8 221.9 L422.3 220.1 L423.9 218.4 L425.4 216.6 L426.9 214.9 L428.4 213.2 L429.9 211.5 L431.4 209.9 L432.9 208.2 L434.4 206.5 L435.9 204.9 L437.4 203.2 L438.9 201.6 L440.4 200.0 L441.9 198.3 L443.4 196.7 L444.9 195.1 L446.4 193.5 L447.9 192.0 L449.5 190.4 L451.0 188.9 L452.5 187.4 L454.0 185.9 L455.5 184.5 L457.0 183.0 L458.5 181.6 L460.0 180.3 L461.5 178.9 L463.0 177.5 L464.5 176.2 L466.0 174.9 L467.5 173.5 L469.0 172.2 L470.5 170.9 L472.0 169.6 L473.5 168.3 L475.1 166.9 L476.6 165.6 L478.1 164.4 L479.6 163.2 L481.1 162.0 L482.6 160.9 L484.1 159.8 L485.6 158.8 L487.1 157.8 L488.6 156.9 L490.1 155.9 L491.6 154.9 L493.1 153.8 L494.6 152.8 L496.1 151.7 L497.6 150.6 L499.1 149.5 L500.6 148.4 L502.2 147.3 L503.7 146.3 L505.2 145.2 L506.7 144.2 L508.2 143.2 L509.7 142.2 L511.2 141.2 L512.7 140.2 L514.2 139.3 L515.7 138.3 L517.2 137.3 L518.7 136.4 L520.2 135.4 L521.7 134.5 L523.2 133.5 L524.7 132.6 L526.2 131.6 L527.8 130.7 L529.3 129.7 L530.8 128.8 L532.3 127.8 L533.8 126.9 L535.3 126.0 L536.8 125.0 L538.3 124.1 L539.8 123.2 L541.3 122.2 L542.8 121.3 L544.3 120.4 L545.8 119.5 L547.3 118.6 L548.8 117.7 L550.3 116.8 L551.8 115.9 L553.3 115.1 L554.9 114.2 L556.4 113.3 L557.9 112.5 L559.4 111.6 L560.9 110.7 L562.4 109.9 L563.9 109.0 L565.4 108.2 L566.9 107.3 L568.4 106.4 L569.9 105.6 L571.4 104.7 L572.9 103.8 L574.4 103.0 L575.9 102.1 L577.4 101.3 L578.9 100.4 L580.5 99.6 L582.0 98.8 L583.5 98.0 L585.0 97.2 L586.5 96.4 L588.0 95.6 L589.5 94.8 L591.0 94.0 L592.5 93.2 L594.0 92.4 L595.5 91.6 L597.0 90.8 L598.5 90.0 L600.0 89.2 L601.5 88.4 L603.0 87.6 L604.5 86.9 L606.1 86.1 L607.6 85.4 L609.1 84.7 L610.6 84.0 L612.1 83.3 L613.6 82.6 L615.1 82.0 L616.6 81.3 L618.1 80.7 L619.6 80.1 L621.1 79.5 L622.6 79.0 L624.1 78.5 L625.6 77.9 L627.1 77.4 L628.6 76.9 L630.1 76.4 L631.6 76.0 L633.2 75.5 L634.7 75.1 L636.2 74.6 L637.7 74.2 L639.2 73.8 L640.7 73.4 L642.2 73.0 L643.7 72.6 L645.2 72.3" stroke="#696969" stroke-width="5.0"/>
<path d="M319.6 512.5 L321.1 509.5 L322.6 506.6 L324.1 503.6 L325.6 500.7 L327.2 497.7 L328.7 494.8 L330.2 491.8 L331.7 488.9 L333.2 485.9 L334.7 483.0 L336.2 480.0 L337.7 477.1 L339.2 474.2 L340.8 471.2 L342.3 468.3 L343.8 465.4 L345.3 462.4 L346.8 459.5 L348.3 456.6 L349.8 453.6 L351.3 450.7 L352.8 447.8 L354.4 444.8 L355.9 441.9 L357.4 439.0 L358.9 436.1 L360.4 433.1 L361.9 430.2 L363.4 427.3 L364.9 424.3 L366.4 421.4 L368.0 418.4 L369.5 415.5 L371.0 412.6 L372.5 409.6 L374.0 406.7 L375.5 403.7 L377.0 400.7 L378.5 397.8 L380.0 394.8 L381.6 391.8 L383.1 388.8 L384.6 385.7 L386.1 382.7 L387.6 379.7 L389.1 376.6 L390.6 373.6 L392.1 370.6 L393.6 367.6 L395.1 364.6 L396.7 361.7 L398.2 358.8 L399.7 355.9 L401.2 353.0 L402.7 350.2 L404.2 347.5 L405.7 344.7 L407.2 342.0 L408.7 339.3 L410.3 336.6 L411.8 333.9 L413.3 331.2 L414.8 328.6 L416.3 326.0 L417.8 323.4 L419.3 320.8 L420.8 318.2 L422.3 315.6 L423.9 313.0 L425.4 310.5 L426.9 308.0 L428.4 305.4 L429.9 302.9 L431.4 300.4 L432.9 297.9 L434.4 295.4 L435.9 293.0 L437.5 290.5 L439.0 288.0 L440.5 285.6 L442.0 283.1 L443.5 280.7 L445.0 278.2 L446.5 275.8 L448.0 273.3 L449.5 270.9 L451.1 268.5 L452.6 266.1 L454.1 263.8 L455.6 261.4 L457.1 259.0 L458.6 256.7 L460.1 254.4 L461.6 252.1 L463.1 249.8 L464.7 247.5 L466.2 245.3 L467.7 243.1 L469.2 240.9 L470.7 238.7" stroke="#BEBEBE" stroke-width="1.6" stroke-dasharray="6 2.45 2 2.45" stroke-dashoffset="10.9"/>
<path d="M470.7 238.7 L472.2 236.6 L473.7 234.4 L475.2 232.3 L476.7 230.2 L478.2 228.2 L479.7 226.1 L481.2 224.1 L482.7 222.1 L484.2 220.1 L485.7 218.2 L487.2 216.2 L488.8 214.3 L490.3 212.4 L491.8 210.5 L493.3 208.7 L494.8 206.9 L496.3 205.1 L497.8 203.3 L499.3 201.6 L500.8 199.9 L502.3 198.2 L503.8 196.5 L505.3 194.8 L506.8 193.1 L508.3 191.5 L509.8 189.8 L511.3 188.1 L512.8 186.4 L514.3 184.7 L515.8 183.0 L517.3 181.3 L518.8 179.7 L520.3 178.1 L521.8 176.5 L523.4 175.0 L524.9 173.4 L526.4 171.9 L527.9 170.4 L529.4 168.9 L530.9 167.5 L532.4 166.0 L533.9 164.6 L535.4 163.1 L536.9 161.7 L538.4 160.3 L539.9 158.8 L541.4 157.4 L542.9 156.0 L544.4 154.6 L545.9 153.2 L547.4 151.7 L548.9 150.3 L550.4 148.9 L551.9 147.5 L553.4 146.1 L554.9 144.7 L556.4 143.4 L558.0 142.0 L559.5 140.6 L561.0 139.3 L562.5 137.9 L564.0 136.6 L565.5 135.2 L567.0 133.9 L568.5 132.5 L570.0 131.2 L571.5 129.8 L573.0 128.4 L574.5 127.1 L576.0 125.7 L577.5 124.3 L579.0 123.0 L580.5 121.6 L582.0 120.2 L583.5 118.8 L585.0 117.4 L586.5 115.9 L588.0 114.5 L589.5 113.0 L591.0 111.6 L592.5 110.1 L594.1 108.6 L595.6 107.1 L597.1 105.6 L598.6 104.0 L600.1 102.5 L601.6 101.0 L603.1 99.5 L604.6 98.0 L606.1 96.5 L607.6 95.0 L609.1 93.5 L610.6 91.9 L612.1 90.4 L613.6 88.9 L615.1 87.4 L616.6 85.9 L618.1 84.3 L619.6 82.8 L621.1 81.4 L622.6 79.9 L624.1 78.4 L625.6 76.9 L627.1 75.5 L628.7 74.0 L630.2 72.6 L631.7 71.1 L633.2 69.7 L634.7 68.2 L636.2 66.8 L637.7 65.4 L639.2 63.9 L640.7 62.5 L642.2 61.1 L643.7 59.7 L645.2 58.3" stroke="#BEBEBE" stroke-width="5.0"/>
<path d="M219.0 330.2 L220.5 329.8 L222.0 329.4 L223.5 329.0 L225.0 328.6 L226.5 328.2 L228.0 327.8 L229.5 327.4 L231.0 327.0 L232.5 326.6 L234.0 326.1 L235.5 325.7 L237.0 325.3 L238.5 324.8 L240.0 324.4 L241.5 324.0 L243.0 323.5 L244.5 323.1 L246.0 322.6 L247.5 322.1 L249.0 321.7 L250.5 321.2 L252.0 320.8 L253.5 320.3 L255.0 319.8 L256.5 319.3 L258.0 318.9 L259.5 318.4 L261.0 317.9 L262.5 317.3 L264.0 316.8 L265.5 316.3 L267.0 315.8 L268.5 315.2 L270.0 314.7 L271.5 314.2 L273.0 313.6 L274.5 313.1 L276.0 312.5 L277.5 312.0 L279.0 311.4 L280.5 310.9 L282.0 310.3 L283.5 309.8 L285.0 309.3 L286.5 308.7 L288.0 308.2 L289.5 307.7 L291.0 307.2 L292.5 306.7 L294.0 306.2 L295.5 305.7 L297.0 305.2 L298.5 304.7 L300.0 304.2 L301.5 303.8 L303.0 303.3 L304.5 302.8 L306.0 302.3 L307.5 301.8 L309.0 301.4 L310.5 300.9 L312.0 300.4 L313.5 300.0 L315.0 299.5 L316.5 299.0 L318.0 298.6 L319.5 298.1 L321.0 297.6 L322.5 297.2 L324.0 296.7 L325.6 296.3 L327.1 295.8 L328.6 295.3 L330.1 294.9 L331.6 294.4 L333.1 293.9 L334.6 293.5 L336.1 293.0 L337.6 292.5 L339.1 292.0 L340.6 291.6 L342.1 291.1 L343.6 290.6 L345.1 290.1 L346.6 289.6 L348.1 289.2 L349.6 288.7 L351.1 288.2 L352.6 287.8 L354.1 287.3 L355.6 286.8 L357.1 286.4 L358.6 286.0 L360.1 285.5 L361.6 285.1 L363.1 284.7 L364.6 284.3 L366.1 283.9 L367.6 283.6 L369.1 283.2 L370.6 282.8 L372.1 282.5 L373.6 282.2 L375.1 281.9 L376.6 281.6 L378.1 281.3 L379.6 281.0 L381.1 280.8 L382.6 280.5 L384.1 280.3 L385.6 280.0 L387.1 279.8 L388.6 279.5 L390.1 279.2 L391.6 279.0 L393.1 278.7 L394.6 278.4 L396.1 278.2 L397.6 278.0 L399.1 277.7 L400.6 277.5 L402.1 277.3 L403.6 277.2 L405.1 277.0 L406.6 276.9 L408.1 276.8 L409.6 276.7 L411.1 276.7 L412.6 276.7 L414.1 276.7 L415.6 276.7 L417.1 276.7 L418.6 276.7 L420.1 276.7 L421.6 276.8 L423.1 276.8 L424.6 276.8 L426.1 276.8 L427.6 276.9 L429.1 276.9 L430.6 276.9 L432.1 277.0 L433.6 277.0 L435.1 277.1 L436.6 277.1 L438.1 277.2 L439.6 277.2 L441.1 277.4 L442.6 277.7 L444.1 278.0 L445.6 278.3 L447.1 278.7 L448.6 279.0 L450.1 279.3 L451.6 279.7 L453.1 280.1 L454.6 280.5 L456.1 280.9 L457.6 281.3 L459.1 281.7 L460.6 282.1 L462.1 282.6 L463.6 283.0 L465.1 283.5 L466.6 284.0 L468.1 284.5 L469.6 285.0 L471.1 285.5 L472.6 286.1 L474.1 286.7 L475.6 287.2 L477.1 287.8 L478.6 288.4 L480.1 288.9 L481.6 289.5 L483.1 290.0 L484.6 290.4 L486.1 290.8 L487.6 291.2 L489.1 291.6 L490.6 292.0 L492.1 292.5 L493.6 293.0 L495.1 293.6 L496.6 294.3 L498.1 295.1 L499.6 295.9 L501.1 296.7 L502.6 297.6 L504.1 298.5 L505.6 299.4 L507.1 300.4 L508.6 301.3 L510.1 302.1 L511.6 303.0 L513.1 303.8 L514.6 304.6 L516.1 305.4 L517.6 306.3 L519.1 307.1 L520.6 307.9 L522.1 308.7 L523.6 309.5 L525.1 310.4 L526.6 311.2 L528.1 312.0 L529.6 312.8 L531.1 313.6 L532.6 314.4 L534.1 315.3 L535.6 316.1 L537.1 316.9 L538.7 317.7 L540.2 318.5 L541.7 319.3 L543.2 320.1 L544.7 321.0 L546.2 321.8 L547.7 320.6 L549.2 318.0 L550.7 315.5 L552.2 312.9 L553.7 310.4 L555.2 307.8 L556.7 305.3 L557.7 303.5 L558.2 303.8 L559.7 304.7 L561.2 305.7 L562.7 306.6 L564.2 307.5 L565.7 308.5 L567.2 309.4 L568.6 310.3 L568.7 310.6 L570.2 317.4 L571.7 324.2 L573.2 331.1 L574.7 337.9 L576.2 344.7 L577.7 351.6 L579.2 358.4 L579.5 359.9 L580.7 360.8 L582.2 362.0 L583.7 363.2 L585.2 364.3 L586.7 365.5 L588.2 366.7 L589.7 367.9 L590.5 368.5 L591.2 369.0 L592.7 370.1 L594.2 371.2 L595.7 372.3 L597.2 373.3 L598.7 374.4 L600.2 375.5 L601.4 376.4 L601.7 376.7 L603.2 378.3 L604.7 379.9 L606.2 381.5 L607.7 383.1 L609.2 384.7 L610.7 386.3 L612.2 387.9 L612.3 388.0 L613.7 389.4 L615.2 390.9 L616.7 392.4 L618.2 393.9 L619.7 395.5 L621.2 397.0 L622.7 398.5 L623.2 399.0 L624.2 400.0 L625.7 401.5 L627.2 403.0 L628.7 404.5 L630.2 406.0 L631.7 407.5 L633.2 409.0 L634.2 410.0 L634.7 410.5 L636.2 411.9 L637.7 413.4 L639.2 414.8 L640.7 416.3 L642.2 417.7 L643.7 419.2 L645.2 420.6" stroke="#FFA500" stroke-width="2.0"/>
<path d="M383.2 280.4 L384.7 280.2 L386.3 279.9 L387.8 279.6 L389.3 279.4 L390.9 279.1 L392.4 278.8 L393.9 278.6 L395.5 278.3 L397.0 278.0 L398.5 277.8 L400.1 277.6 L401.6 277.4 L403.1 277.2 L404.7 277.1 L406.2 276.9 L407.7 276.8 L409.3 276.7 L410.8 276.7 L412.3 276.7 L413.9 276.7 L415.4 276.7 L416.9 276.7 L418.5 276.7 L420.0 276.7 L421.5 276.8 L423.1 276.8 L424.6 276.8 L426.1 276.8 L427.7 276.9 L429.2 276.9 L430.7 276.9 L432.3 277.0 L433.8 277.0 L435.3 277.1 L436.9 277.1 L438.4 277.2 L439.9 277.3 L441.5 277.5 L443.0 277.8 L444.5 278.1 L446.1 278.4 L447.6 278.8" stroke="#FFA500" stroke-width="5.0"/>
<path d="M219.0 409.0 L220.5 407.5 L222.0 405.9 L223.5 404.4 L225.0 402.9 L226.5 401.4 L228.0 399.9 L229.5 398.3 L231.0 396.8 L232.5 395.3 L234.0 393.8 L235.5 392.3 L237.0 390.8 L238.5 389.3 L240.0 387.8 L241.5 386.3 L243.0 384.8 L244.5 383.3 L246.0 381.8 L247.5 380.3 L249.0 378.8 L250.5 377.3 L252.0 375.8 L253.5 374.4 L255.0 372.9 L256.5 371.4 L258.0 370.0 L259.5 368.5 L261.0 367.1 L262.5 365.6 L264.0 364.2 L265.5 362.7 L267.0 361.3 L268.5 359.9 L270.0 358.4 L271.5 357.0 L273.0 355.5 L274.5 354.1 L276.0 352.6 L277.5 351.1 L279.0 349.7 L280.5 348.2 L282.0 346.7 L283.5 345.2 L285.0 343.8 L286.5 342.3 L288.0 340.8 L289.5 339.2 L291.0 337.7 L292.5 336.2 L294.0 334.6 L295.5 333.0 L297.0 331.4 L298.5 329.8 L300.0 328.2 L301.5 326.6 L303.0 325.0 L304.5 323.3 L306.0 321.7 L307.5 320.0 L309.0 318.4 L310.5 316.7 L312.0 315.0 L313.5 313.4 L315.0 311.7 L316.5 310.1 L318.0 308.5 L319.5 306.8 L321.0 305.2 L322.5 303.6 L324.0 302.0 L325.6 300.4 L327.1 298.9 L328.6 297.3 L330.1 295.8 L331.6 294.2 L333.1 292.7 L334.6 291.2 L336.1 289.7 L337.6 288.2 L339.1 286.7 L340.6 285.2 L342.1 283.7 L343.6 282.2 L345.1 280.8 L346.6 279.3 L348.1 277.8 L349.6 276.3 L351.1 274.9 L352.6 273.4 L354.1 272.0 L355.6 270.5 L357.1 269.1 L358.6 267.6 L360.1 266.2 L361.6 264.7 L363.1 263.2 L364.6 261.8 L366.1 260.3 L367.6 258.9 L369.1 257.4 L370.6 255.9 L372.1 254.4 L373.6 252.9 L375.1 251.5 L376.6 250.0 L378.1 248.5 L379.6 247.0 L381.1 245.5 L382.6 244.0 L384.1 242.5 L385.6 241.0 L387.1 239.6 L388.6 238.1 L390.1 236.7 L391.6 235.3 L393.1 233.9 L394.6 232.5 L396.1 231.2 L397.6 229.8 L399.1 228.5 L400.6 227.2 L402.1 226.0 L403.6 224.7 L405.1 223.6 L406.6 222.4 L408.1 221.2 L409.6 220.1 L411.1 218.9 L412.6 217.8 L414.1 216.7 L415.6 215.7 L417.1 214.6 L418.6 213.5 L420.1 212.5 L421.6 211.5 L423.1 210.4 L424.6 209.4 L426.1 208.4 L427.6 207.4 L429.1 206.4 L430.6 205.4 L432.1 204.4 L433.6 203.4 L435.1 202.4 L436.6 201.4 L438.1 200.4 L439.6 199.4 L441.1 198.4 L442.6 197.4 L444.1 196.4 L445.6 195.4 L447.1 194.5 L448.6 193.7 L450.1 193.0 L451.6 192.3 L453.1 191.7 L454.6 191.1 L456.1 190.4 L457.6 189.7 L459.1 189.0 L460.6 188.2 L462.1 187.3 L463.6 186.5 L465.1 185.6 L466.6 184.8 L468.1 184.0 L469.6 183.2 L471.1 182.4 L472.6 181.7 L474.1 181.0 L475.6 180.4 L477.1 179.9 L478.6 179.3 L480.1 178.8 L481.6 178.3 L483.1 177.8 L484.6 177.3 L486.1 176.8 L487.6 176.3 L489.1 175.9 L490.6 175.5 L492.1 175.1 L493.6 174.7 L495.1 174.3 L496.6 173.9 L498.1 173.5 L499.6 173.1 L501.1 172.7 L502.6 172.3 L504.1 172.0 L505.6 171.6 L507.1 171.3 L508.6 170.9 L510.1 170.6 L511.6 170.3 L513.1 170.0 L514.6 169.7 L516.1 169.4 L517.6 169.1 L519.1 168.8 L520.6 168.6 L522.1 168.4 L523.6 168.1 L525.1 167.9 L526.6 167.7 L528.1 167.5 L529.6 167.3 L531.1 167.1 L532.6 166.9 L534.1 166.8 L535.6 166.6 L537.1 166.4 L538.7 166.2 L540.2 166.0 L541.7 165.7 L543.2 165.5 L544.7 165.3 L546.2 165.1 L546.8 165.0 L547.7 163.4 L549.2 160.8 L550.7 158.2 L552.2 155.6 L553.7 153.0 L555.2 150.4 L556.7 147.8 L557.7 146.0 L558.2 146.0 L559.7 145.9 L561.2 145.8 L562.7 145.8 L564.2 145.7 L565.7 145.6 L567.2 145.6 L568.6 145.5 L568.7 145.5 L570.2 146.5 L571.7 147.6 L573.2 148.6 L574.7 149.6 L576.2 150.6 L577.7 151.6 L579.2 152.6 L579.5 152.8 L580.7 153.0 L582.2 153.3 L583.7 153.5 L585.2 153.8 L586.7 154.0 L588.2 154.3 L589.7 154.6 L590.5 154.7 L591.2 155.2 L592.7 156.3 L594.2 157.3 L595.7 158.4 L597.2 159.5 L598.7 160.6 L600.2 161.6 L601.4 162.5 L601.7 162.6 L603.2 163.1 L604.7 163.6 L606.2 164.0 L607.7 164.5 L609.2 165.0 L610.7 165.5 L612.2 166.0 L612.3 166.0 L613.7 166.4 L615.2 166.7 L616.7 167.1 L618.2 167.5 L619.7 167.9 L621.2 168.3 L622.7 168.7 L623.2 168.8 L624.2 169.1 L625.7 169.6 L627.2 170.0 L628.7 170.5 L630.2 171.0 L631.7 171.4 L633.2 171.9 L634.2 172.2 L634.7 172.4 L636.2 172.9 L637.7 173.3 L639.2 173.8 L640.7 174.3 L642.2 174.8 L643.7 175.3 L645.2 175.8" stroke="#FC8530" stroke-width="2.0" stroke-dasharray="1.4 2.66"/>
<path d="M403.8 224.6 L405.3 223.4 L406.8 222.2 L408.3 221.0 L409.8 219.9 L411.3 218.8 L412.8 217.7 L414.3 216.6 L415.8 215.5 L417.3 214.4 L418.8 213.4 L420.3 212.4 L421.8 211.3 L423.3 210.3 L424.8 209.3 L426.3 208.3 L427.8 207.3 L429.3 206.3 L430.8 205.3 L432.3 204.3 L433.8 203.3 L435.3 202.3 L436.8 201.3 L438.3 200.3 L439.8 199.3 L441.3 198.3 L442.8 197.3 L444.3 196.3 L445.8 195.3 L447.3 194.4 L448.8 193.6" stroke="#FC8530" stroke-width="5.0"/>
</g>
<g fill="none">
<path d="M235.1 27.7 H251.8" stroke="#A020F0" stroke-width="2" stroke-dasharray="6.6 3.5"/>
<path d="M235.1 46.1 H251.8" stroke="#DDA0DD" stroke-width="2" stroke-dasharray="6 2.45 2 2.45"/>
<path d="M235.1 64.6 H251.8" stroke="#0000FF" stroke-width="2"/>
<path d="M235.1 83.0 H251.8" stroke="#87CEEB" stroke-width="2" stroke-dasharray="1.4 2.66"/>
<path d="M235.1 101.4 H251.8" stroke="#228B22" stroke-width="2" stroke-dasharray="6.6 3.5"/>
<path d="M235.1 119.9 H251.8" stroke="#00FF00" stroke-width="2"/>
<path d="M235.1 138.3 H251.8" stroke="#000000" stroke-width="2"/>
<path d="M235.1 156.7 H251.8" stroke="#696969" stroke-width="2" stroke-dasharray="1.4 2.66"/>
<path d="M235.1 175.1 H251.8" stroke="#BEBEBE" stroke-width="2" stroke-dasharray="6 2.45 2 2.45"/>
<path d="M235.1 193.6 H251.8" stroke="#FFA500" stroke-width="2"/>
<path d="M235.1 212.0 H251.8" stroke="#FC8530" stroke-width="2" stroke-dasharray="1.4 2.66"/>
</g>
<path d="M219.00 512.5 V502.50 M229.92 512.5 V507.50 M240.85 512.5 V507.50 M251.77 512.5 V507.50 M262.70 512.5 V507.50 M273.62 512.5 V507.50 M284.55 512.5 V507.50 M295.48 512.5 V507.50 M306.40 512.5 V507.50 M317.33 512.5 V507.50 M328.25 512.5 V502.50 M339.18 512.5 V507.50 M350.10 512.5 V507.50 M361.02 512.5 V507.50 M371.95 512.5 V507.50 M382.88 512.5 V507.50 M393.80 512.5 V507.50 M404.73 512.5 V507.50 M415.65 512.5 V507.50 M426.58 512.5 V507.50 M437.50 512.5 V502.50 M448.43 512.5 V507.50 M459.35 512.5 V507.50 M470.28 512.5 V507.50 M481.20 512.5 V507.50 M492.12 512.5 V507.50 M503.05 512.5 V507.50 M513.98 512.5 V507.50 M524.90 512.5 V507.50 M535.83 512.5 V507.50 M546.75 512.5 V502.50 M557.67 512.5 V507.50 M568.60 512.5 V507.50 M579.53 512.5 V507.50 M590.45 512.5 V507.50 M601.38 512.5 V507.50 M612.30 512.5 V507.50 M623.23 512.5 V507.50 M634.15 512.5 V507.50 M645.08 512.5 V507.50 M656.00 512.5 V502.50 M613.40 9.0 V19.00 M618.40 9.0 V14.00 M623.99 9.0 V14.00 M630.32 9.0 V14.00 M637.64 9.0 V14.00 M646.29 9.0 V14.00 M504.15 9.0 V19.00 M509.15 9.0 V14.00 M514.74 9.0 V14.00 M521.07 9.0 V14.00 M528.39 9.0 V14.00 M537.04 9.0 V14.00 M547.62 9.0 V14.00 M561.27 9.0 V14.00 M580.51 9.0 V14.00 M394.90 9.0 V19.00 M399.90 9.0 V14.00 M405.49 9.0 V14.00 M411.82 9.0 V14.00 M419.14 9.0 V14.00 M427.79 9.0 V14.00 M438.37 9.0 V14.00 M452.02 9.0 V14.00 M471.26 9.0 V14.00 M285.65 9.0 V19.00 M290.65 9.0 V14.00 M296.24 9.0 V14.00 M302.57 9.0 V14.00 M309.89 9.0 V14.00 M318.54 9.0 V14.00 M329.12 9.0 V14.00 M342.77 9.0 V14.00 M362.01 9.0 V14.00 M233.52 9.0 V14.00 M252.76 9.0 V14.00 M219.0 512.50 H227.70 M656.0 512.50 H647.30 M219.0 504.11 H223.40 M656.0 504.11 H651.60 M219.0 495.72 H223.40 M656.0 495.72 H651.60 M219.0 487.32 H223.40 M656.0 487.32 H651.60 M219.0 478.93 H223.40 M656.0 478.93 H651.60 M219.0 470.54 H223.40 M656.0 470.54 H651.60 M219.0 462.15 H223.40 M656.0 462.15 H651.60 M219.0 453.76 H223.40 M656.0 453.76 H651.60 M219.0 445.37 H223.40 M656.0 445.37 H651.60 M219.0 436.97 H223.40 M656.0 436.97 H651.60 M219.0 428.58 H227.70 M656.0 428.58 H647.30 M219.0 420.19 H223.40 M656.0 420.19 H651.60 M219.0 411.80 H223.40 M656.0 411.80 H651.60 M219.0 403.41 H223.40 M656.0 403.41 H651.60 M219.0 395.02 H223.40 M656.0 395.02 H651.60 M219.0 386.62 H223.40 M656.0 386.62 H651.60 M219.0 378.23 H223.40 M656.0 378.23 H651.60 M219.0 369.84 H223.40 M656.0 369.84 H651.60 M219.0 361.45 H223.40 M656.0 361.45 H651.60 M219.0 353.06 H223.40 M656.0 353.06 H651.60 M219.0 344.67 H227.70 M656.0 344.67 H647.30 M219.0 336.27 H223.40 M656.0 336.27 H651.60 M219.0 327.88 H223.40 M656.0 327.88 H651.60 M219.0 319.49 H223.40 M656.0 319.49 H651.60 M219.0 311.10 H223.40 M656.0 311.10 H651.60 M219.0 302.71 H223.40 M656.0 302.71 H651.60 M219.0 294.32 H223.40 M656.0 294.32 H651.60 M219.0 285.93 H223.40 M656.0 285.93 H651.60 M219.0 277.53 H223.40 M656.0 277.53 H651.60 M219.0 269.14 H223.40 M656.0 269.14 H651.60 M219.0 260.75 H227.70 M656.0 260.75 H647.30 M219.0 252.36 H223.40 M656.0 252.36 H651.60 M219.0 243.97 H223.40 M656.0 243.97 H651.60 M219.0 235.57 H223.40 M656.0 235.57 H651.60 M219.0 227.18 H223.40 M656.0 227.18 H651.60 M219.0 218.79 H223.40 M656.0 218.79 H651.60 M219.0 210.40 H223.40 M656.0 210.40 H651.60 M219.0 202.01 H223.40 M656.0 202.01 H651.60 M219.0 193.62 H223.40 M656.0 193.62 H651.60 M219.0 185.22 H223.40 M656.0 185.22 H651.60 M219.0 176.83 H227.70 M656.0 176.83 H647.30 M219.0 168.44 H223.40 M656.0 168.44 H651.60 M219.0 160.05 H223.40 M656.0 160.05 H651.60 M219.0 151.66 H223.40 M656.0 151.66 H651.60 M219.0 143.27 H223.40 M656.0 143.27 H651.60 M219.0 134.88 H223.40 M656.0 134.88 H651.60 M219.0 126.48 H223.40 M656.0 126.48 H651.60 M219.0 118.09 H223.40 M656.0 118.09 H651.60 M219.0 109.70 H223.40 M656.0 109.70 H651.60 M219.0 101.31 H223.40 M656.0 101.31 H651.60 M219.0 92.92 H227.70 M656.0 92.92 H647.30 M219.0 84.52 H223.40 M656.0 84.52 H651.60 M219.0 76.13 H223.40 M656.0 76.13 H651.60 M219.0 67.74 H223.40 M656.0 67.74 H651.60 M219.0 59.35 H223.40 M656.0 59.35 H651.60 M219.0 50.96 H223.40 M656.0 50.96 H651.60 M219.0 42.57 H223.40 M656.0 42.57 H651.60 M219.0 34.18 H223.40 M656.0 34.18 H651.60 M219.0 25.78 H223.40 M656.0 25.78 H651.60 M219.0 17.39 H223.40 M656.0 17.39 H651.60 M219.0 9.00 H227.70 M656.0 9.00 H647.30" stroke="#000" stroke-width="2" fill="none"/>
<rect x="219.0" y="9.0" width="437.0" height="503.5" fill="none" stroke="#000" stroke-width="2.1"/>
<g class="k">
<text x="212.6" y="512.5" font-size="23.5" text-anchor="end">11</text>
<text x="212.6" y="436.3" font-size="23.5" text-anchor="end">12</text>
<text x="212.6" y="352.4" font-size="23.5" text-anchor="end">13</text>
<text x="212.6" y="268.4" font-size="23.5" text-anchor="end">14</text>
<text x="212.6" y="184.5" font-size="23.5" text-anchor="end">15</text>
<text x="212.6" y="100.6" font-size="23.5" text-anchor="end">16</text>
<text x="212.6" y="23.0" font-size="23.5" text-anchor="end">17</text>
<text x="218.4" y="541.6" font-size="23.5" text-anchor="middle">−5</text>
<text x="327.6" y="541.6" font-size="23.5" text-anchor="middle">−4</text>
<text x="436.9" y="541.6" font-size="23.5" text-anchor="middle">−3</text>
<text x="546.1" y="541.6" font-size="23.5" text-anchor="middle">−2</text>
<text x="656.3" y="541.6" font-size="23.5" text-anchor="middle">−1</text>
<text x="411.4" y="567" font-size="23.5">log U</text>
<text transform="translate(171.2 325.4) rotate(-90)" font-size="23.5">log N<tspan font-size="14.5" dy="5.5">X</tspan><tspan dy="-5.5"> [cm</tspan><tspan font-size="14.5" dy="-9.5">−2</tspan><tspan dy="9.5">]</tspan></text>
<text x="596.9" y="0.6" font-size="23.5" stroke="none">10</text>
<text x="487.6" y="0.6" font-size="23.5" stroke="none">10</text>
<text x="378.4" y="0.6" font-size="23.5" stroke="none">10</text>
<text x="269.1" y="0.6" font-size="23.5" stroke="none">10</text>
</g>
</svg></body></html>
